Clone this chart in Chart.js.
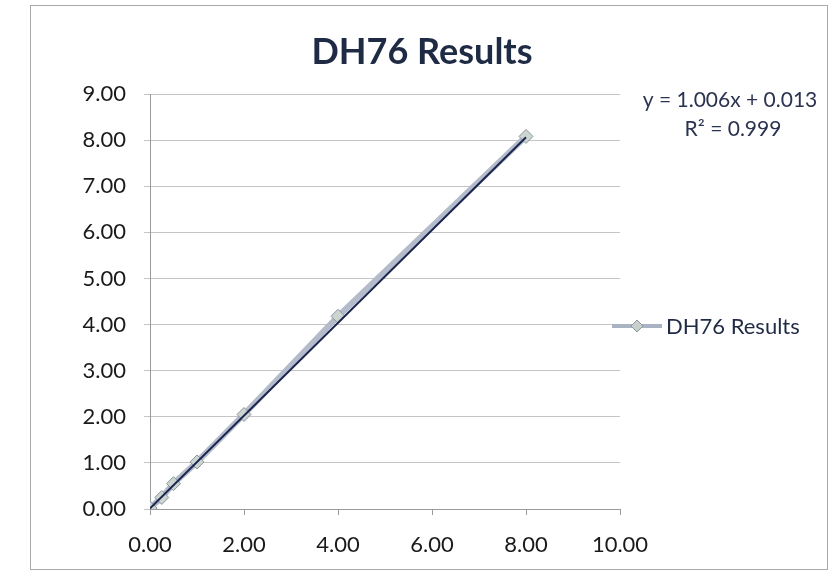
<!DOCTYPE html>
<html>
<head>
<meta charset="utf-8">
<script src="https://cdn.jsdelivr.net/npm/chart.js@4.4.1/dist/chart.umd.min.js"></script>
<style>
    html, body { margin: 0; padding: 0; background: #fff; }
    .wrap { position: relative; width: 834px; height: 577px; }
    .frame { position: absolute; left: 30px; top: 5px; width: 798px; height: 565px; border: 1px solid #a8a8a8; box-sizing: border-box; }
    canvas { position: absolute; left: 0; top: 0; }
</style>
</head>
<body>
<div class="wrap">
    <div class="frame"></div>
    <canvas id="chart" width="834" height="577"></canvas>
</div>
<script>
// Chart data
const chartTitle = 'DH76 Results';
const seriesName = 'DH76 Results';
const xValues = [0, 0.25, 0.5, 1, 2, 4, 8];
const yValues = [0.02, 0.25, 0.55, 1.02, 2.05, 4.18, 8.08];
const xTicks = [0, 2, 4, 6, 8, 10];
const yTicks = [0, 1, 2, 3, 4, 5, 6, 7, 8, 9];
const trendSlope = 1.006;
const trendIntercept = 0.013;
const trendRange = [0, 8];
const equationLines = ['y = 1.006x + 0.013', 'R\u00B2 = 0.999'];

const FONT = 'Lato, "Open Sans", "Liberation Sans", sans-serif';

const points = xValues.map((x, i) => ({ x: x, y: yValues[i] }));
const trendPoints = trendRange.map(x => ({ x: x, y: trendSlope * x + trendIntercept }));

// Title, equation and legend drawn on the canvas
const annotations = {
    id: 'annotations',
    afterDraw(chart) {
        const ctx = chart.ctx;
        ctx.save();

        ctx.fillStyle = '#1f2a44';
        ctx.font = 'bold 36px ' + FONT;
        ctx.textAlign = 'center';
        ctx.textBaseline = 'middle';
        ctx.fillText(chartTitle, 422, 52);

        ctx.font = '21px ' + FONT;
        ctx.fillStyle = '#2a3350';
        ctx.fillText(equationLines[0], 730, 100);
        ctx.fillText(equationLines[1], 733, 129);

        // legend entry
        const ly = 326;
        ctx.strokeStyle = '#aab3c4';
        ctx.lineWidth = 4;
        ctx.beginPath();
        ctx.moveTo(612, ly);
        ctx.lineTo(662, ly);
        ctx.stroke();
        ctx.fillStyle = '#c9d0cc';
        ctx.strokeStyle = '#8d96a8';
        ctx.lineWidth = 1;
        ctx.beginPath();
        ctx.moveTo(637, ly - 6);
        ctx.lineTo(643, ly);
        ctx.lineTo(637, ly + 6);
        ctx.lineTo(631, ly);
        ctx.closePath();
        ctx.fill();
        ctx.stroke();
        ctx.fillStyle = '#1f2a44';
        ctx.textAlign = 'left';
        ctx.font = '22px ' + FONT;
        ctx.fillText(seriesName, 666, ly + 1);

        ctx.restore();
    }
};

new Chart(document.getElementById('chart'), {
    type: 'scatter',
    data: {
        datasets: [
            {
                label: 'Trend',
                data: trendPoints,
                showLine: true,
                borderColor: '#1c2550',
                borderWidth: 2,
                pointRadius: 0,
                order: 0
            },
            {
                label: seriesName,
                data: points,
                showLine: true,
                borderColor: '#b4bccb',
                borderWidth: 6,
                pointStyle: 'rectRot',
                pointRadius: 7,
                pointBackgroundColor: '#cdd5d0',
                pointBorderColor: '#8a94a0',
                pointBorderWidth: 1,
                order: 1
            }
        ]
    },
    options: {
        responsive: false,
        animation: false,
        layout: { padding: { left: 0, top: 94, right: 214, bottom: 0 } },
        plugins: {
            legend: { display: false },
            title: { display: false },
            tooltip: { enabled: false }
        },
        scales: {
            x: {
                type: 'linear',
                min: 0,
                max: 10,
                afterBuildTicks: axis => { axis.ticks = xTicks.map(v => ({ value: v })); },
                afterFit: axis => { axis.height = 68; },
                border: { color: '#9a9a9a', width: 1 },
                grid: { drawOnChartArea: false, drawTicks: true, tickLength: 6, color: '#9a9a9a' },
                ticks: {
                    padding: 17,
                    color: '#1a1a1a',
                    font: { family: FONT, size: 22 },
                    callback: v => v.toFixed(2)
                }
            },
            y: {
                type: 'linear',
                min: 0,
                max: 9,
                afterBuildTicks: axis => { axis.ticks = yTicks.map(v => ({ value: v })); },
                afterFit: axis => { axis.width = 150; },
                border: { color: '#9a9a9a', width: 1 },
                grid: { color: '#c4c4c4', lineWidth: 1, drawTicks: true, tickLength: 6 },
                ticks: {
                    padding: 18,
                    color: '#1a1a1a',
                    font: { family: FONT, size: 22 },
                    callback: v => v.toFixed(2)
                }
            }
        }
    },
    plugins: [annotations]
});
</script>
</body>
</html>
